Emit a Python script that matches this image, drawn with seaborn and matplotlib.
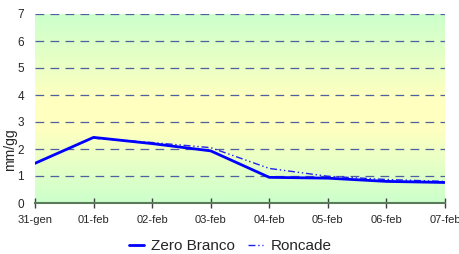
import numpy as np
import pandas as pd
import matplotlib
matplotlib.use("Agg")
import matplotlib.pyplot as plt
import seaborn as sns
from matplotlib.colors import LinearSegmentedColormap

dates = ["31-gen", "01-feb", "02-feb", "03-feb", "04-feb", "05-feb", "06-feb", "07-feb"]
zero_branco = [1.47, 2.43, 2.2, 1.93, 0.95, 0.92, 0.8, 0.76]
roncade = [np.nan, 2.4, 2.24, 2.05, 1.28, 0.99, 0.87, 0.8]
yticks = [0, 1, 2, 3, 4, 5, 6, 7]

sns.set_theme(style="white")
plt.rcParams["font.family"] = ["Liberation Sans", "DejaVu Sans"]

df = pd.DataFrame({"x": np.arange(len(dates)), "Zero Branco": zero_branco, "Roncade": roncade})

fig = plt.figure(figsize=(4.6, 2.54), dpi=100)
ax = fig.add_axes([35/460, 1 - 203/254, 410/460, 189/254])

# gradient background: green top, yellow middle, green bottom
cmap = LinearSegmentedColormap.from_list("bg", [(0.0, "#CCFFCC"), (0.45, "#FFFFC0"), (0.6, "#FFFFC0"), (1.0, "#CCFFCC")])
grad = np.linspace(0, 1, 256).reshape(-1, 1)
ax.imshow(grad, aspect="auto", cmap=cmap, extent=[0, 1, 0, 1], transform=ax.transAxes, zorder=0)

for y in yticks[1:]:
    ax.axhline(y, color="#4F5FA0", lw=0.9, ls=(0, (7, 5)), zorder=1)

sns.lineplot(data=df, x="x", y="Zero Branco", ax=ax, color="#0000FF", lw=2.0, zorder=3, label="Zero Branco")
sns.lineplot(data=df, x="x", y="Roncade", ax=ax, color="#2222EE", lw=1.0, zorder=2,
             label="Roncade", dashes=False, linestyle=(0, (5, 2, 1, 2, 1, 2)))

ax.set_xlim(0, len(dates) - 1)
ax.set_ylim(0, 7)
ax.set_xticks(range(len(dates)))
ax.set_xticklabels(dates, fontsize=8)
ax.set_yticks(yticks)
ax.set_yticklabels([str(v) for v in yticks], fontsize=8.5)
ax.set_xlabel("")
ax.set_ylabel("mm/gg", fontsize=10)
ax.yaxis.set_label_coords((17 - 35) / 410, 0.28)

for s in ["top", "right", "left"]:
    ax.spines[s].set_visible(False)
ax.spines["bottom"].set_color("#5A7A5A")
ax.spines["bottom"].set_linewidth(1.5)
ax.tick_params(axis="x", direction="inout", length=7, width=1, color="#404040", pad=5, bottom=True)
ax.tick_params(axis="y", length=0, pad=8)

ax.get_legend().remove()
handles, labels = ax.get_legend_handles_labels()
fig.legend(handles, labels, loc="center", bbox_to_anchor=(230/460, 1 - 246/254), ncol=2, frameon=False,
           fontsize=11, handlelength=1.0, columnspacing=0.8, handletextpad=0.5,
           borderpad=0, borderaxespad=0)

fig.savefig("out.png", dpi=100)
